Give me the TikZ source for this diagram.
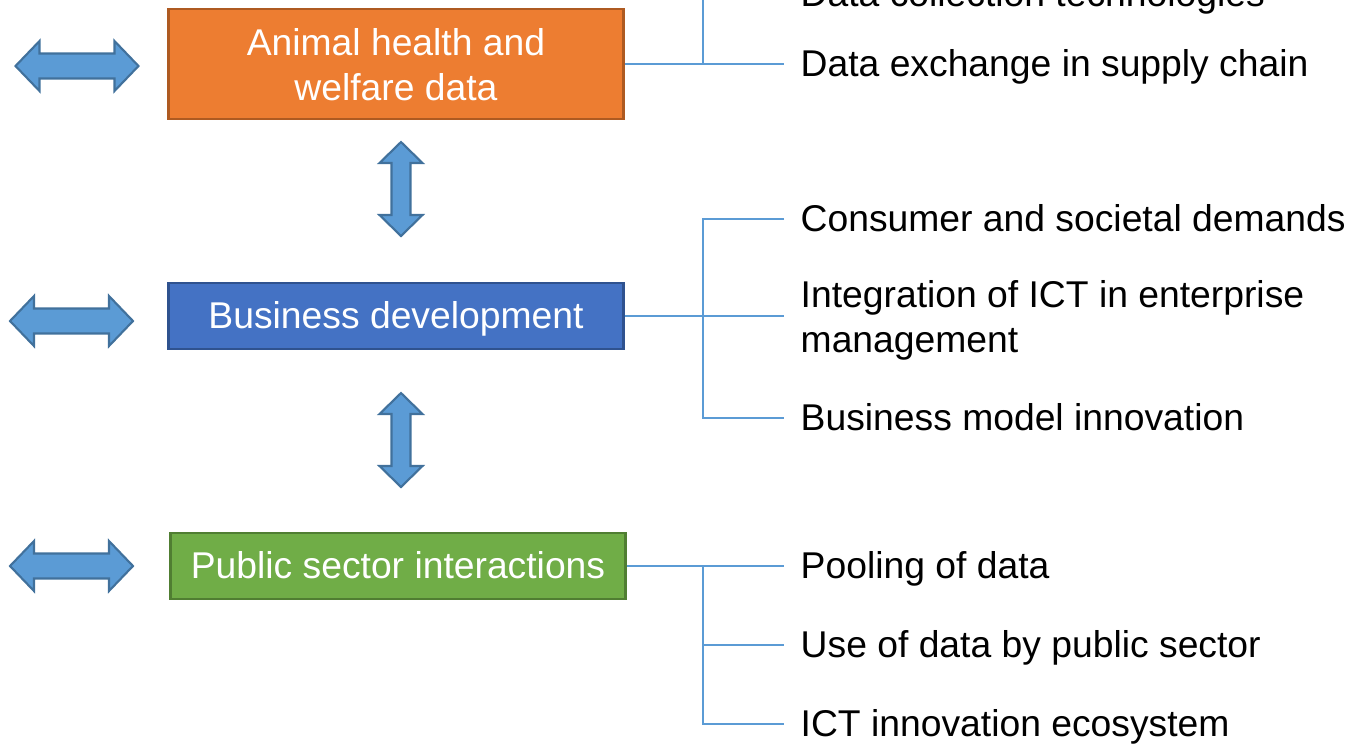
\documentclass[tikz,border=0pt]{standalone}
\usepackage{fontspec}
\setmainfont{Liberation Sans}
\usepackage{tikz}
\usetikzlibrary{positioning}
\definecolor{orangefill}{HTML}{ED7D31}
\definecolor{orangeline}{HTML}{AE5A21}
\definecolor{bluefill}{HTML}{4472C4}
\definecolor{blueline}{HTML}{2F528F}
\definecolor{greenfill}{HTML}{70AD47}
\definecolor{greenline}{HTML}{507E32}
\definecolor{arrowfill}{HTML}{5B9BD5}
\definecolor{arrowline}{HTML}{41719C}
\definecolor{linkblue}{HTML}{5B9BD5}
\tikzstyle{box}=[draw, line width=0.8pt, minimum width=4.54cm, text=white, align=center, inner sep=0pt, text height=0.73em, text depth=0pt]
\tikzstyle{item}=[anchor=west, inner xsep=0.16cm, inner ysep=0pt, text height=0.73em, text depth=0pt]
\tikzstyle{branch}=[draw=linkblue, line width=0.55pt]
\tikzstyle{fatarrow}=[fill=arrowfill, draw=arrowline, line width=0.6pt, line join=miter]
\tikzset{
  hdarrow/.pic={\filldraw[fatarrow] (-61.5,0) -- (-37.5,-25) -- (-37.5,-12.5) -- (37.5,-12.5) -- (37.5,-25) -- (61.5,0)
    -- (37.5,25) -- (37.5,12.5) -- (-37.5,12.5) -- (-37.5,25) -- cycle;},
  vdarrow/.pic={\filldraw[fatarrow] (0,-47) -- (21.5,-26) -- (9.5,-26) -- (9.5,26) -- (21.5,26) -- (0,47)
    -- (-21.5,26) -- (-9.5,26) -- (-9.5,-26) -- (-21.5,-26) -- cycle;}
}

\begin{document}
\begin{tikzpicture}[x=0.01cm, y=-0.01cm, font=\fontsize{10.6}{12.8}\selectfont]
	\useasboundingbox (0,0) rectangle (1359,750);
	\clip (0,0) rectangle (1359,750);
	% main boxes
	\node[box, fill=orangefill, draw=orangeline, minimum height=1.1cm, text height=0.722cm] (animal) at (396,64) {Animal health and\\welfare data};
	\node[box, fill=bluefill, draw=blueline, minimum height=0.66cm] (business) at (396,316) {Business development};
	\node[box, fill=greenfill, draw=greenline, minimum height=0.66cm] (public) at (398,566) {Public sector interactions};
	% fat arrows
	\pic at (77,66) {hdarrow};
	\pic at (71.5,321) {hdarrow};
	\pic at (71.5,566) {hdarrow};
	\pic at (401,189) {vdarrow};
	\pic at (401,440) {vdarrow};
	% items
	\node[item] (collect) at (784,-6) {Data collection technologies};
	\node[item] (exchange) at (784,64) {Data exchange in supply chain};
	\node[item] (consumer) at (784,219) {Consumer and societal demands};
	\node[item, align=left, text height=0.722cm] (integration) at (784,316) {Integration of ICT in enterprise\\management};
	\node[item] (model) at (784,418) {Business model innovation};
	\node[item] (pooling) at (784,566) {Pooling of data};
	\node[item] (usedata) at (784,645) {Use of data by public sector};
	\node[item] (ecosystem) at (784,724) {ICT innovation ecosystem};
	\coordinate (j1) at (703,64);
	\coordinate (j2) at (703,316);
	\coordinate (j3) at (703,566);
	% brackets
	\draw[branch] (animal.east) -- (exchange.west);
	\draw[branch] (j1) |- (collect.west);
	\draw[branch] (business.east) -- (integration.west);
	\draw[branch] (consumer.west) -| (j2) |- (model.west);
	\draw[branch] (public.east) -- (pooling.west);
	\draw[branch] (j3) |- (usedata.west);
	\draw[branch] (j3) |- (ecosystem.west);
\end{tikzpicture}
\end{document}
